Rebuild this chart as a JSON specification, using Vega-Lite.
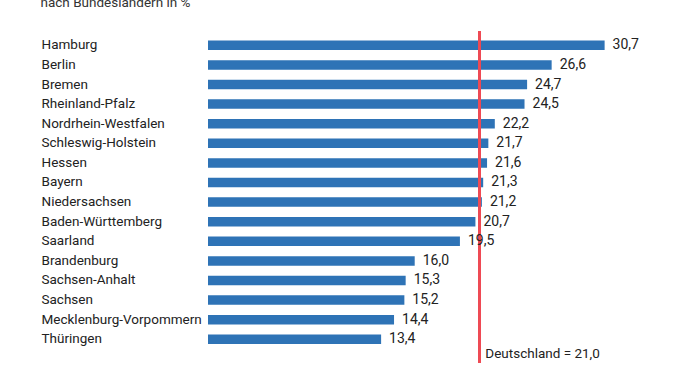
{
  "$schema": "https://vega.github.io/schema/vega-lite/v6.json",
  "width": 470,
  "height": 332,
  "autosize": {"type": "none"},
  "padding": {"left": 208, "top": 31, "right": 0, "bottom": 0},
  "background": "white",
  "config": {
    "view": {"stroke": null},
    "font": "Roboto",
    "locale": {"number": {"decimal": ",", "thousands": ".", "grouping": [3], "currency": ["", " €"]}}
  },
  "data": {
    "values": [
      {"land": "Hamburg", "wert": 30.7},
      {"land": "Berlin", "wert": 26.6},
      {"land": "Bremen", "wert": 24.7},
      {"land": "Rheinland-Pfalz", "wert": 24.5},
      {"land": "Nordrhein-Westfalen", "wert": 22.2},
      {"land": "Schleswig-Holstein", "wert": 21.7},
      {"land": "Hessen", "wert": 21.6},
      {"land": "Bayern", "wert": 21.3},
      {"land": "Niedersachsen", "wert": 21.2},
      {"land": "Baden-Württemberg", "wert": 20.7},
      {"land": "Saarland", "wert": 19.5},
      {"land": "Brandenburg", "wert": 16.0},
      {"land": "Sachsen-Anhalt", "wert": 15.3},
      {"land": "Sachsen", "wert": 15.2},
      {"land": "Mecklenburg-Vorpommern", "wert": 14.4},
      {"land": "Thüringen", "wert": 13.4}
    ]
  },
  "encoding": {
    "y": {
      "field": "land",
      "type": "nominal",
      "sort": null,
      "scale": {"paddingInner": 0.515, "paddingOuter": 0.7275, "align": 0.335},
      "axis": {
        "title": "nach Bundesländern in %",
        "titleAngle": 0,
        "titleAlign": "left",
        "titleBaseline": "alphabetic",
        "titleX": -168,
        "titleY": -25,
        "titleFont": "Roboto",
        "titleFontSize": 13.5,
        "titleFontWeight": "normal",
        "titleColor": "#333",
        "domain": false,
        "ticks": false,
        "labelAlign": "left",
        "labelPadding": 167,
        "labelFont": "Roboto",
        "labelFontSize": 13.5,
        "labelColor": "#222",
        "labelLimit": 200
      }
    }
  },
  "layer": [
    {
      "mark": {"type": "bar", "color": "#2e73b6"},
      "encoding": {
        "x": {
          "field": "wert",
          "type": "quantitative",
          "scale": {"domain": [0, 36.38], "nice": false, "zero": true},
          "axis": {
            "title": "Ergebnisse des Mikrozensus 2018",
            "titleAlign": "left",
            "titleBaseline": "alphabetic",
            "titleX": -168,
            "titleY": 353,
            "titleFont": "Roboto",
            "titleFontSize": 13.5,
            "titleFontWeight": "normal",
            "titleColor": "#333",
            "labels": false,
            "ticks": false,
            "domain": false,
            "grid": false
          }
        }
      }
    },
    {
      "mark": {"type": "rule", "color": "#ee4b55", "strokeWidth": 2},
      "encoding": {"x": {"datum": 21}, "y": null}
    },
    {
      "mark": {"type": "text", "align": "left", "baseline": "middle", "dx": 8, "fontSize": 14, "color": "#222", "font": "Roboto"},
      "encoding": {
        "x": {"field": "wert", "type": "quantitative"},
        "text": {"field": "wert", "type": "quantitative", "format": ".1f"}
      }
    },
    {
      "transform": [{"filter": "datum.land === 'Thüringen'"}],
      "mark": {"type": "text", "align": "left", "baseline": "middle", "dx": 6, "dy": 15, "fontSize": 13.5, "color": "#222", "font": "Roboto"},
      "encoding": {
        "x": {"datum": 21},
        "text": {"value": "Deutschland = 21,0"}
      }
    }
  ]
}
